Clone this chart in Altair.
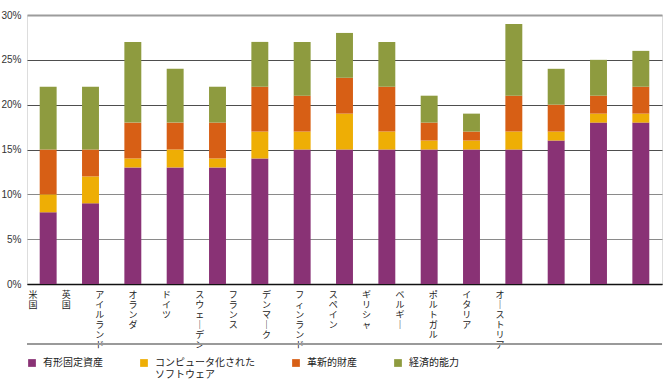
import altair as alt
import pandas as pd

# Intangible / tangible capital investment as share of GDP (%), by country
countries = ["米国", "英国", "アイルランド", "オランダ", "ドイツ", "スウェーデン", "フランス",
             "デンマーク", "フィンランド", "スペイン", "ギリシャ", "ベルギー", "ポルトガル",
             "イタリア", "オーストリア"]
tangible = [8, 9, 13, 13, 13, 14, 15, 15, 15, 15, 15, 15, 16, 18, 18]
software = [2, 3, 1, 2, 1, 3, 2, 4, 2, 1, 1, 2, 1, 1, 1]
innovative = [5, 3, 4, 3, 4, 5, 4, 4, 5, 2, 1, 4, 3, 2, 3]
economic = [7, 7, 9, 6, 4, 5, 6, 5, 5, 3, 2, 8, 4, 4, 4]

series = ["有形固定資産", "コンピュータ化されたソフトウェア", "革新的財産", "経済的能力"]
colors = ["#893275", "#EEAE05", "#D75F15", "#8E9B3F"]

rows = []
for i, c in enumerate(countries):
    for k, (name, vals) in enumerate(zip(series, [tangible, software, innovative, economic])):
        rows.append({"country": c, "series": name, "order": k, "value": vals[i]})
df = pd.DataFrame(rows)

# vertical (tategaki) country labels: one character per line
labels = pd.DataFrame({
    "country": countries,
    "vlabel": ["\n".join(c.replace("ー", "｜")) for c in countries],
})

W, H = 635, 269

# every legend label is two lines tall so the entries line up;
# the software label wraps onto its second line
legend_label = (
    "datum.label == 'コンピュータ化されたソフトウェア'"
    " ? ['コンピュータ化された', 'ソフトウェア'] : [datum.label, '']"
)

bars = alt.Chart(df).mark_bar().encode(
    x=alt.X("country:N", sort=countries,
            scale=alt.Scale(paddingInner=0.6, paddingOuter=0.3),
            axis=alt.Axis(title=None, labels=False, ticks=False, domain=True,
                          domainColor="#111", domainWidth=1.5, grid=False)),
    y=alt.Y("value:Q", stack="zero",
            scale=alt.Scale(domain=[0, 30], nice=False),
            axis=alt.Axis(title=None, values=[0, 5, 10, 15, 20, 25, 30],
                          labelExpr="datum.value + '%'", ticks=False, domain=False,
                          labelPadding=6, labelFontSize=10, labelColor="#333",
                          labelFont="Liberation Sans",
                          gridColor={"condition": [
                              {"test": "datum.value == 30", "value": "#9c9c9c"},
                              {"test": "datum.value == 5 || datum.value == 10", "value": "#8a8a8a"}],
                              "value": "#4e4e4e"},
                          gridWidth={"condition": {"test": "datum.value == 30", "value": 2},
                                     "value": 1.2})),
    color=alt.Color("series:N", sort=series,
                    scale=alt.Scale(domain=series, range=colors),
                    legend=alt.Legend(title=None, orient="none", legendX=0, legendY=343,
                                      direction="horizontal", columns=4, columnPadding=36,
                                      symbolType="square", symbolSize=60, symbolStrokeWidth=0,
                                      labelFont="Noto Sans CJK JP", labelFontSize=10,
                                      labelColor="#222", labelOffset=6, labelBaseline="middle",
                                      labelLimit=200, labelExpr=legend_label)),
    order=alt.Order("order:Q"),
)

country_text = alt.Chart(labels).mark_text(
    lineBreak="\n", baseline="top", align="center", fontSize=9, lineHeight=10,
    font="Noto Sans CJK JP", color="#222",
).encode(
    x=alt.X("country:N", sort=countries,
            scale=alt.Scale(type="point", range=[6, 473], padding=0), axis=None),
    y=alt.value(H + 7),
    text="vlabel:N",
)

separator = alt.Chart(labels).mark_rule(color="#9a9a9a", strokeWidth=1.5).encode(
    x=alt.value(0), x2=alt.value(W), y=alt.value(H + 60),
)

chart = alt.layer(bars, country_text, separator).resolve_scale(x="independent").properties(
    width=W, height=H,
    autosize=alt.AutoSizeParams(type="none"),
    padding={"left": 27, "top": 15, "right": 6, "bottom": 101},
).configure_view(stroke=None).configure(background="white")

chart.save("out.html", embed_options={"renderer": "svg", "actions": False})
